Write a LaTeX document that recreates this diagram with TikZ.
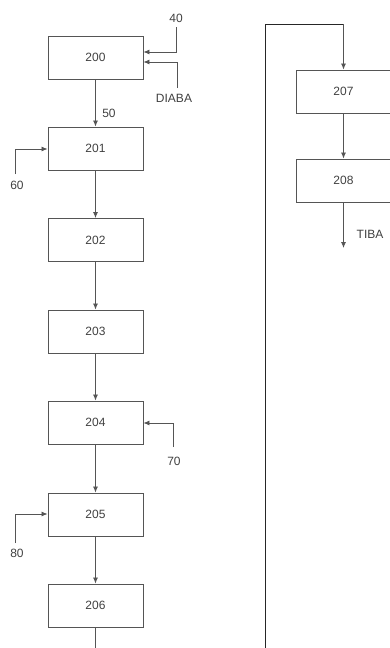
\documentclass[tikz,border=0pt]{standalone}
\usepackage{fontspec}
\setmainfont{Liberation Sans}
\usetikzlibrary{arrows.meta}
\definecolor{ln}{HTML}{555555}
\definecolor{tx}{HTML}{404040}
\tikzset{
  box/.style={draw=ln, line width=0.9pt, minimum width=95pt, minimum height=43pt, inner sep=0pt, text=tx, font=\fontsize{12}{14}\selectfont},
  lbl/.style={text=tx, font=\fontsize{12}{14}\selectfont, inner sep=0pt},
  conn/.style={draw=ln, line width=0.8pt, -{Latex[length=6pt,width=5pt]}},
  plain/.style={draw=ln, line width=0.8pt},
  loop/.style={draw=black!85, line width=1pt}
}
\begin{document}
\begin{tikzpicture}[x=1pt,y=-1pt]
\useasboundingbox (0,0) rectangle (390,648);
\clip (0,0) rectangle (390,648);
% left column
\node[box] (b200) at (95.5,57.5) {200};
\node[box] (b201) at (95.5,148.5) {201};
\node[box] (b202) at (95.5,240) {202};
\node[box] (b203) at (95.5,331.5) {203};
\node[box] (b204) at (95.5,422.5) {204};
\node[box] (b205) at (95.5,514.5) {205};
\node[box] (b206) at (95.5,605.5) {206};
% right column
\node[box] (b207) at (343.5,91.5) {207};
\node[box] (b208) at (343.5,180.5) {208};
% labels
\node[lbl] (l40) at (176,18) {40};
\node[lbl] (ldiaba) at (174,98) {DIABA};
\node[lbl] (l50) at (109,113) {50};
\node[lbl] (l60) at (17,185) {60};
\node[lbl] (l70) at (174,461) {70};
\node[lbl] (l80) at (17,553) {80};
\node[lbl] (ltiba) at (370,234) {TIBA};
% coordinates
\coordinate (c40a) at (176,27);
\coordinate (c40b) at (176,52);
\coordinate (cda) at (177,88);
\coordinate (cdb) at (177,62);
\coordinate (c60a) at (15,174);
\coordinate (c60b) at (15,149);
\coordinate (c70a) at (173,447);
\coordinate (c70b) at (173,423);
\coordinate (c80a) at (15,543);
\coordinate (c80b) at (15,514);
\coordinate (cbot) at (95.5,648);
\coordinate (rbot) at (265,648);
\coordinate (rtop) at (265,24);
\coordinate (rtop2) at (343.5,24);
\coordinate (ctiba) at (343.5,248);
% connectors
\draw[conn] (c40a) -- (c40b) -- (b200.east |- c40b);
\draw[conn] (cda) -- (cdb) -- (b200.east |- cdb);
\draw[conn] (b200) -- (b201);
\draw[conn] (c60a) -- (c60b) -- (b201.west |- c60b);
\draw[conn] (b201) -- (b202);
\draw[conn] (b202) -- (b203);
\draw[conn] (b203) -- (b204);
\draw[conn] (c70a) -- (c70b) -- (b204.east |- c70b);
\draw[conn] (b204) -- (b205);
\draw[conn] (c80a) -- (c80b) -- (b205.west |- c80b);
\draw[conn] (b205) -- (b206);
\draw[plain] (b206) -- (cbot);
\draw[loop] (rbot) -- (rtop) -- (rtop2);
\draw[conn] (rtop2) -- (b207);
\draw[conn] (b207) -- (b208);
\draw[conn] (b208) -- (ctiba);
\end{tikzpicture}
\end{document}
